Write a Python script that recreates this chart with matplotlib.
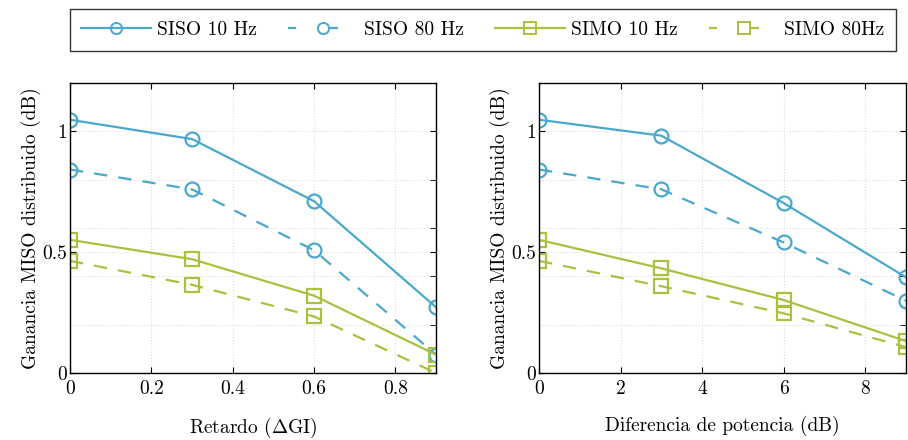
import numpy as np
import matplotlib
matplotlib.use('Agg')
import matplotlib.pyplot as plt
from matplotlib import rcParams
from matplotlib.lines import Line2D
from matplotlib.ticker import FormatStrFormatter

rcParams['font.family'] = 'serif'
rcParams['font.serif'] = ['cmr10', 'DejaVu Serif']
rcParams['mathtext.fontset'] = 'cm'
rcParams['axes.formatter.use_mathtext'] = True
rcParams['font.size'] = 14

# datos
retardo = [0, 0.3, 0.6, 0.9]
potencia = [0, 3, 6, 9]

siso10_ret = [1.048, 0.968, 0.711, 0.272]
siso80_ret = [0.842, 0.760, 0.508, 0.076]
simo10_ret = [0.551, 0.471, 0.320, 0.076]
simo80_ret = [0.464, 0.365, 0.234, 0.0]

siso10_pot = [1.048, 0.982, 0.703, 0.396]
siso80_pot = [0.842, 0.760, 0.540, 0.299]
simo10_pot = [0.551, 0.433, 0.302, 0.132]
simo80_pot = [0.464, 0.359, 0.247, 0.107]

etiquetas = ['SISO 10 Hz', 'SISO 80 Hz', 'SIMO 10 Hz', 'SIMO 80Hz']
azul = '#4aa8cd'
verde = '#a8c23f'
estilos = [(azul, '-', 'o'), (azul, '--', 'o'), (verde, '-', 's'), (verde, '--', 's')]

fig = plt.figure(figsize=(9.08, 4.40), dpi=100)
ax1 = fig.add_axes([70 / 908, 1 - 373 / 440, 366 / 908, 290 / 440])
ax2 = fig.add_axes([539 / 908, 1 - 373 / 440, 367 / 908, 290 / 440])


def dibujar(ax, x, series, xlim, xticks, xlabel):
    for y, (c, ls, m) in zip(series, estilos):
        ax.plot(x, y, color=c, linestyle=ls, marker=m, markersize=10,
                markerfacecolor='none', markeredgewidth=1.6, linewidth=1.6,
                dashes=(6, 5) if ls == '--' else (None, None), clip_on=True)
    ax.set_xlim(*xlim)
    ax.set_ylim(0, 1.2)
    ax.set_xticks(xticks)
    ax.xaxis.set_major_formatter(FormatStrFormatter('%g'))
    ax.set_yticks([0, 0.5, 1])
    ax.set_yticklabels(['0', '0.5', '1'])
    ax.set_yticks([0.2, 0.4, 0.6, 0.8, 1.0], minor=True)
    ax.tick_params(which='both', direction='in', top=True, right=True, length=4)
    ax.tick_params(axis='y', which='minor', left=False)
    ax.tick_params(axis='y', which='major', pad=2)
    ax.tick_params(axis='x', which='major', pad=5)
    ax.grid(True, which='both', linestyle=':', color='#dddddd', linewidth=0.8)
    ax.set_xlabel(xlabel, labelpad=13)
    ax.set_ylabel('Ganancia MISO distribuido (dB)', labelpad=1)
    for s in ax.spines.values():
        s.set_linewidth(1.0)


dibujar(ax1, retardo, [siso10_ret, siso80_ret, simo10_ret, simo80_ret],
        (0, 0.9), [0, 0.2, 0.4, 0.6, 0.8], r'Retardo ($\Delta$GI)')
dibujar(ax2, potencia, [siso10_pot, siso80_pot, simo10_pot, simo80_pot],
        (0, 9), [0, 2, 4, 6, 8], 'Diferencia de potencia (dB)')

handles = [Line2D([], [], color=c, linestyle=ls, marker=m, markersize=8,
                  markerfacecolor='none', markeredgewidth=1.4, linewidth=1.6,
                  dashes=(3.6, 15.3) if ls == '--' else (None, None))
           for c, ls, m in estilos]
fig.legend(handles, etiquetas, loc='center', bbox_to_anchor=(483 / 908, 1 - 30 / 440),
           ncol=4, frameon=True, fancybox=False, edgecolor='black',
           handlelength=3.6, columnspacing=1.6, handletextpad=0.3, fontsize=14,
           borderpad=0.6)

fig.savefig('out.png', dpi=100)
